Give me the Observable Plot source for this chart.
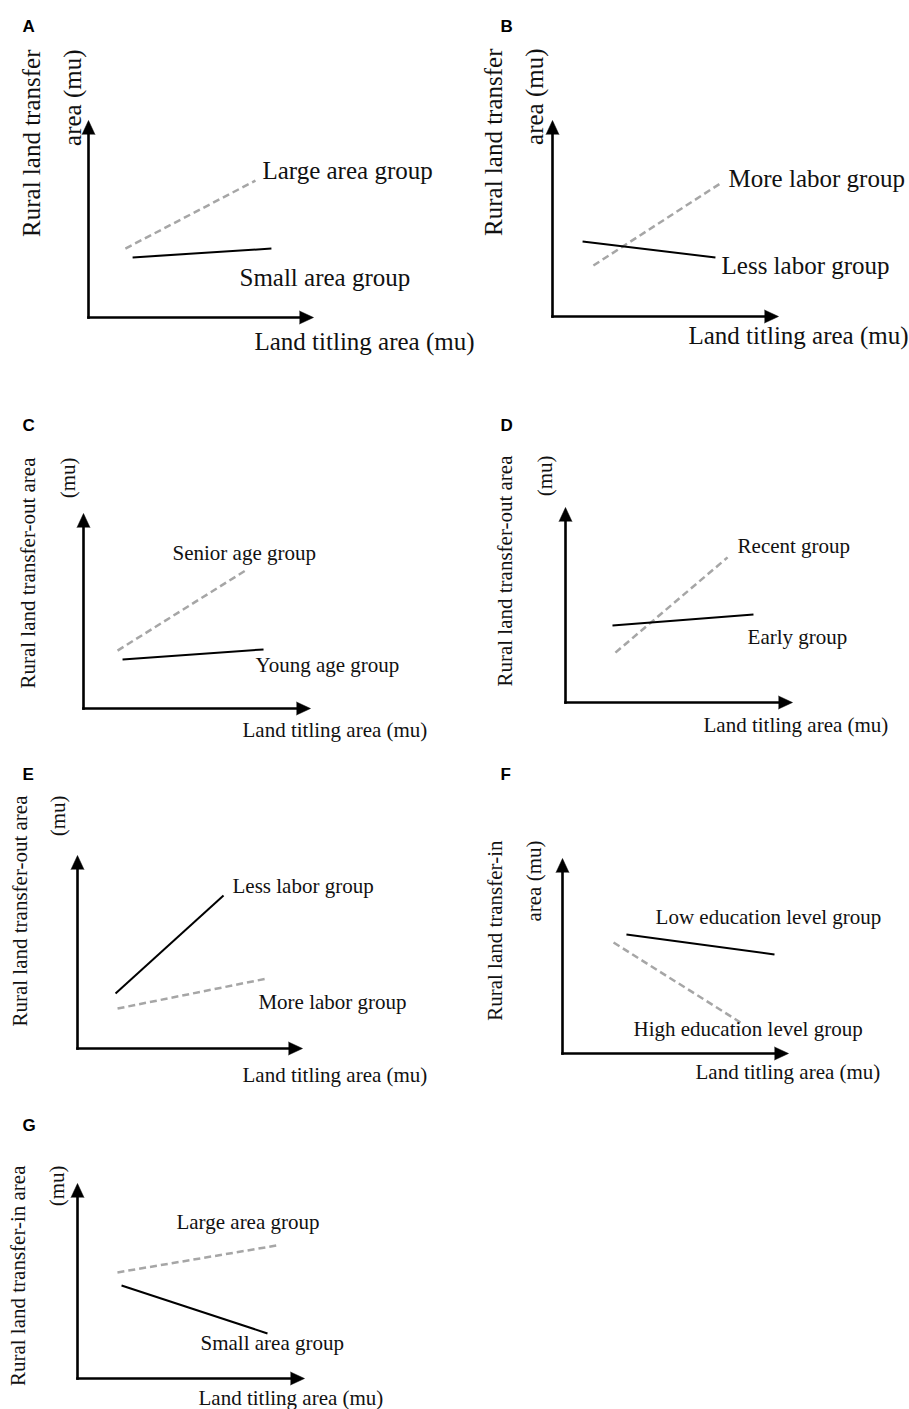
<!DOCTYPE html>
<html><head><meta charset="utf-8">
<script src="https://cdn.jsdelivr.net/npm/d3@7"></script>
<script src="https://cdn.jsdelivr.net/npm/@observablehq/plot@0.6"></script>
<style>
html,body{margin:0;padding:0;background:#fff;}
#page{position:relative;width:909px;height:1409px;overflow:hidden;background:#fff;}
</style></head><body><div id="page"></div>
<script>
// ---------- DATA (schematic units: axes run 0..10) ----------
const panelIds = ["A", "B", "C", "D", "E", "F", "G"];
const xTitle = "Land titling area (mu)";
const yTitleLines = {
  A: ["Rural land transfer", "area (mu)"],
  B: ["Rural land transfer", "area (mu)"],
  C: ["Rural land transfer-out area", "(mu)"],
  D: ["Rural land transfer-out area", "(mu)"],
  E: ["Rural land transfer-out area", "(mu)"],
  F: ["Rural land transfer-in", "area (mu)"],
  G: ["Rural land transfer-in area", "(mu)"]
};
// each series: a line segment (x1,y1)-(x2,y2) and its label anchor (lx,ly)
const seriesA = [
  {group: "Large area group", dashed: true,  x1: 1.64, y1: 3.50, x2: 7.42, y2: 6.95, lx: 7.73, ly: 7.46},
  {group: "Small area group", dashed: false, x1: 1.96, y1: 3.05, x2: 8.13, y2: 3.50, lx: 6.71, ly: 2.03}
];
const seriesB = [
  {group: "More labor group", dashed: true,  x1: 1.81, y1: 2.60, x2: 7.43, y2: 6.79, lx: 7.79, ly: 7.04},
  {group: "Less labor group", dashed: false, x1: 1.33, y1: 3.83, x2: 7.21, y2: 3.01, lx: 7.48, ly: 2.60}
];
const seriesC = [
  {group: "Senior age group", dashed: true,  x1: 1.50, y1: 2.97, x2: 7.14, y2: 7.08, lx: 3.92, ly: 7.95},
  {group: "Young age group",  dashed: false, x1: 1.72, y1: 2.51, x2: 7.93, y2: 3.03, lx: 7.58, ly: 2.21}
];
const seriesD = [
  {group: "Recent group", dashed: true,  x1: 2.20, y1: 2.56, x2: 7.14, y2: 7.44, lx: 7.58, ly: 8.00},
  {group: "Early group",  dashed: false, x1: 2.07, y1: 3.95, x2: 8.28, y2: 4.51, lx: 8.02, ly: 3.33}
];
const seriesE = [
  {group: "Less labor group", dashed: false, x1: 1.69, y1: 2.85, x2: 6.49, y2: 7.93, lx: 6.89, ly: 8.39},
  {group: "More labor group", dashed: true,  x1: 1.78, y1: 2.07, x2: 8.44, y2: 3.63, lx: 8.04, ly: 2.38}
];
const seriesF = [
  {group: "Low education level group",  dashed: false, x1: 2.83, y1: 6.10, x2: 9.38, y2: 5.08, lx: 4.12, ly: 6.97},
  {group: "High education level group", dashed: true,  x1: 2.26, y1: 5.69, x2: 7.88, y2: 1.59, lx: 3.14, ly: 1.23}
];
const seriesG = [
  {group: "Large area group", dashed: true,  x1: 1.76, y1: 5.44, x2: 8.77, y2: 6.82, lx: 4.36, ly: 8.00},
  {group: "Small area group", dashed: false, x1: 1.94, y1: 4.77, x2: 8.37, y2: 2.31, lx: 5.42, ly: 1.79}
];
const seriesByPanel = {A: seriesA, B: seriesB, C: seriesC, D: seriesD, E: seriesE, F: seriesF, G: seriesG};
const axisLines = [{x1: 0, y1: 0, x2: 9.5, y2: 0}, {x1: 0, y1: 0, x2: 0, y2: 9.4}];
const axisHeads = [{x: 10, y: 0, rotate: 90}, {x: 0, y: 10, rotate: 0}];

// ---------- LAYOUT (page pixels) ----------
// box: [left, top, width, height]; frame: [originX, originY, tipX, tipY]
const layout = {
  A: {box: [0, 0, 455, 380],     frame: [88, 317, 313, 120],   font: 25, letter: [22, 26.5], yt: [31, 72, 49],    xt: [254, 341]},
  B: {box: [455, 0, 454, 380],   frame: [552, 316, 778, 120],  font: 25, letter: [500, 26.5], yt: [493, 534, 48], xt: [688, 335]},
  C: {box: [0, 380, 455, 380],   frame: [83, 708, 310, 513],   font: 21, letter: [22, 425],  yt: [28, 68, 457],   xt: [242, 730]},
  D: {box: [455, 380, 454, 380], frame: [565, 702, 792, 507],  font: 21, letter: [500, 425], yt: [505, 545, 455], xt: [703, 725]},
  E: {box: [0, 760, 455, 340],   frame: [77, 1048, 302, 855],  font: 21, letter: [22, 774],  yt: [20, 58, 795],   xt: [242, 1075]},
  F: {box: [455, 760, 454, 340], frame: [562, 1053, 788, 858], font: 21, letter: [500, 774], yt: [495, 534, 840], xt: [695, 1072]},
  G: {box: [0, 1100, 455, 309],  frame: [77, 1378, 304, 1183], font: 21, letter: [22, 1125], yt: [18, 57, 1165],  xt: [198, 1398]}
};
const serif = "'Liberation Serif','Times New Roman',Times,serif";
const sans = "'Liberation Sans',Arial,Helvetica,sans-serif";

const page = document.getElementById("page");

for (const id of panelIds) {
  const L = layout[id];
  const [bl, bt, bw, bh] = L.box;
  const [ox, oy, tx, ty] = L.frame;
  const fs = L.font;
  const series = seriesByPanel[id];
  const ytl = yTitleLines[id];
  const svg = Plot.plot({
    width: bw,
    height: bh,
    marginLeft: ox - bl,
    marginRight: bl + bw - tx,
    marginTop: ty - bt,
    marginBottom: bt + bh - oy,
    x: {domain: [0, 10], axis: null},
    y: {domain: [0, 10], axis: null},
    marks: [
      Plot.link(axisLines, {x1: "x1", y1: "y1", x2: "x2", y2: "y2", stroke: "black", strokeWidth: 2.6, strokeLinecap: "square"}),
      Plot.vector(axisHeads, {x: "x", y: "y", rotate: "rotate", length: 14, shape: "spike", r: 6.5, anchor: "end",
        fill: "black", stroke: "black", strokeWidth: 0.5, strokeLinejoin: "miter"}),
      Plot.link(series.filter(d => d.dashed), {x1: "x1", y1: "y1", x2: "x2", y2: "y2",
        stroke: "#a6a6a6", strokeWidth: 2.5, strokeDasharray: "7,4"}),
      Plot.link(series.filter(d => !d.dashed), {x1: "x1", y1: "y1", x2: "x2", y2: "y2",
        stroke: "black", strokeWidth: 2}),
      Plot.text(series, {x: "lx", y: "ly", text: "group", textAnchor: "start", lineAnchor: "middle",
        fontSize: fs, fontFamily: serif, fill: "#111"}),
      Plot.text([xTitle], {text: d => d, frameAnchor: "top-left", dx: L.xt[0] - ox, dy: L.xt[1] - ty,
        textAnchor: "start", lineAnchor: "middle", fontSize: fs, fontFamily: serif, fill: "#111"}),
      Plot.text([ytl[0]], {text: d => d, frameAnchor: "top-left", dx: L.yt[0] - ox, dy: L.yt[2] - ty,
        rotate: -90, textAnchor: "end", lineAnchor: "middle", fontSize: fs, fontFamily: serif, fill: "#111"}),
      Plot.text([ytl[1]], {text: d => d, frameAnchor: "top-left", dx: L.yt[1] - ox, dy: L.yt[2] - ty,
        rotate: -90, textAnchor: "end", lineAnchor: "middle", fontSize: fs, fontFamily: serif, fill: "#111"}),
      Plot.text([id], {text: d => d, frameAnchor: "top-left", dx: L.letter[0] - ox, dy: L.letter[1] - ty,
        textAnchor: "start", lineAnchor: "middle", fontSize: 17, fontWeight: "bold", fontFamily: sans, fill: "black"})
    ]
  });
  svg.style.position = "absolute";
  svg.style.left = bl + "px";
  svg.style.top = bt + "px";
  svg.style.overflow = "visible";
  svg.style.background = "none";
  svg.style.maxWidth = "none";
  page.appendChild(svg);
}
</script>
</body></html>
